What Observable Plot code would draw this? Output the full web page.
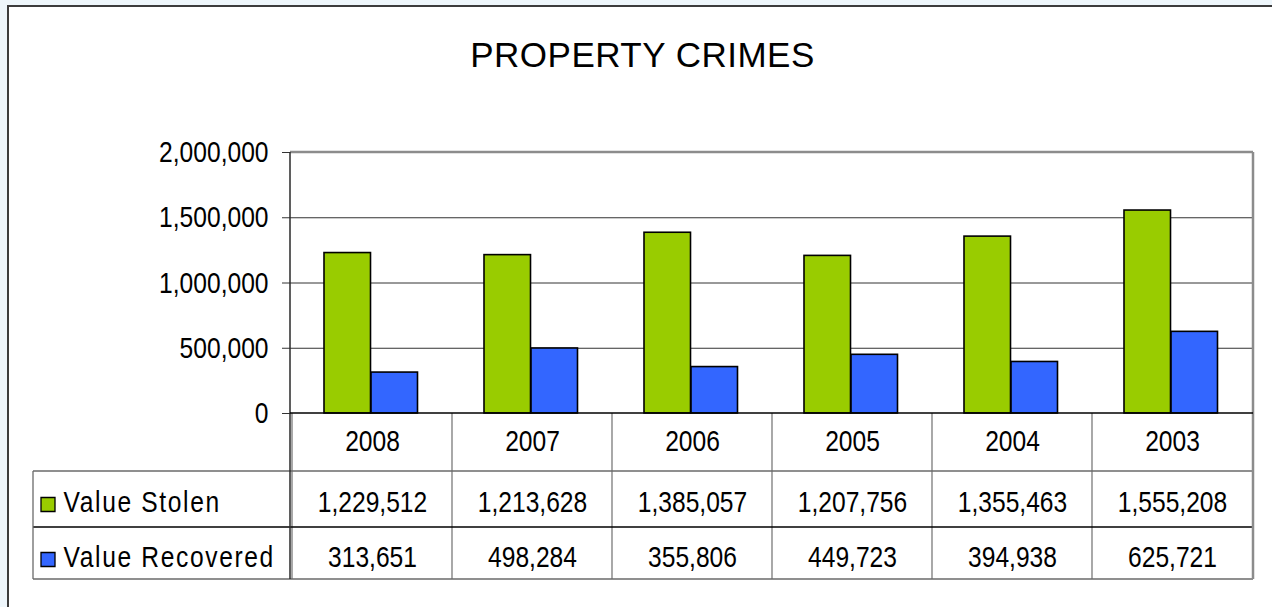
<!DOCTYPE html>
<html>
<head>
<meta charset="utf-8">
<script src="https://cdn.jsdelivr.net/npm/d3@7"></script>
<script src="https://cdn.jsdelivr.net/npm/@observablehq/plot@0.6"></script>
<style>
  html, body { margin: 0; padding: 0; }
  body { background: #eef6fb; width: 1272px; height: 607px; overflow: hidden; position: relative; }
  #frame { position: absolute; left: 7px; top: 5px; width: 1300px; height: 640px; border: 2px solid #3c3c3c; background: #ffffff; }
  #title { position: absolute; left: 0; top: 37px; width: 1285px; text-align: center; font-family: "Liberation Sans", Arial, sans-serif; font-size: 35px; line-height: 35px; color: #000; letter-spacing: 0.5px; }
  #chart { position: absolute; left: 0; top: 0; }
</style>
</head>
<body>
<div id="frame"></div>
<div id="title">PROPERTY CRIMES</div>
<div id="chart"></div>
<script>
const years = ["2008", "2007", "2006", "2005", "2004", "2003"];
const valueStolen = [1229512, 1213628, 1385057, 1207756, 1355463, 1555208];
const valueRecovered = [313651, 498284, 355806, 449723, 394938, 625721];
const seriesNames = ["Value Stolen", "Value Recovered"];
const seriesColors = ["#99cc00", "#3366ff"];
const yTicks = [0, 500000, 1000000, 1500000, 2000000];

const rows = years.map((year, i) => ({year, stolen: valueStolen[i], recovered: valueRecovered[i]}));
const fmt = d3.format(",");
const fontFam = '"Liberation Sans", Arial, sans-serif';
const narrowScale = 0.82; // horizontal squeeze to mimic a narrow face

// table layout (row heights below the plot frame)
const rowH = [58, 56, 52];
const legendWidth = 257;

function tableGrid(index, scales, values, dims) {
  const x = scales.x;
  const left = dims.marginLeft, right = dims.width - dims.marginRight;
  const top = dims.marginTop, base = dims.height - dims.marginBottom;
  const r1 = base + rowH[0], r2 = r1 + rowH[1], r3 = r2 + rowH[2];
  const lx = left - legendWidth;
  const g = d3.create("svg:g").attr("fill", "none");
  const line = (x1, y1, x2, y2, stroke, w) =>
    g.append("line").attr("x1", x1).attr("y1", y1).attr("x2", x2).attr("y2", y2)
      .attr("stroke", stroke).attr("stroke-width", w);
  for (const yr of x.domain()) {
    const xx = x(yr);
    if (xx > left + 1) line(xx, base, xx, r3, "#7a7a7a", 1.3);
  }
  line(lx, r1, right, r1, "#6a6a6a", 1.3);
  line(lx, r2, right, r2, "#000", 1.6);
  line(lx, r3, right, r3, "#6a6a6a", 1.3);
  line(lx, r1, lx, r3, "#6a6a6a", 1.3);
  line(left, top, right, top, "#8c8c8c", 2.5);
  line(right, top, right, r3, "#8c8c8c", 2.5);
  line(left, top, left, r3, "#2a2a2a", 1.5);
  line(left, base, right, base, "#000", 1.5);
  return g.node();
}

const marks = [
  Plot.ruleY(yTicks.slice(1, -1), {stroke: "#333", strokeWidth: 1}),
  Plot.barY(rows, {x: "year", y: "stolen", fill: seriesColors[0], stroke: "#000", strokeWidth: 1.6, insetLeft: 32, insetRight: 81.5}),
  Plot.barY(rows, {x: "year", y: "recovered", fill: seriesColors[1], stroke: "#000", strokeWidth: 1.6, insetLeft: 79, insetRight: 34.5}),
  Plot.axisY({ticks: yTicks, tickFormat: fmt, tickSize: 8, tickPadding: 14, stroke: "#333", fontSize: 30, label: null}),
  tableGrid,
  Plot.text(rows, {x: "year", text: "year", frameAnchor: "bottom", dy: 28, lineAnchor: "middle", fontSize: 30}),
  Plot.text(rows, {x: "year", text: d => fmt(d.stolen), frameAnchor: "bottom", dy: 88.5, lineAnchor: "middle", fontSize: 30}),
  Plot.text(rows, {x: "year", text: d => fmt(d.recovered), frameAnchor: "bottom", dy: 144, lineAnchor: "middle", fontSize: 30}),
  ...seriesNames.map((name, i) => Plot.text([name], {text: d => d, frameAnchor: "bottom-left", dx: -227, dy: [88.5, 144][i], lineAnchor: "middle", textAnchor: "start", fontSize: 30})),
  ...seriesNames.map((name, i) => Plot.dot([name], {frameAnchor: "bottom-left", dx: -242.5, dy: [91, 146][i], symbol: "square", r: 7.9, fill: seriesColors[i], stroke: "#000", strokeWidth: 1.3}))
];

const chart = Plot.plot({
  width: 1272,
  height: 607,
  marginLeft: 290,
  marginRight: 19,
  marginTop: 152,
  marginBottom: 194,
  style: {fontFamily: fontFam, fontSize: "30px", color: "#000", background: "transparent", overflow: "visible"},
  x: {domain: years, type: "band", padding: 0, axis: null},
  y: {domain: [0, 2000000], axis: null},
  marks
});

// squeeze each label horizontally around its own anchor point
chart.querySelectorAll("text").forEach(t => {
  const tr = t.getAttribute("transform");
  if (tr) {
    t.setAttribute("transform", tr + ` scale(${narrowScale},1)`);
  } else {
    const x = t.getAttribute("x") || 0;
    t.setAttribute("transform", `translate(${x},0) scale(${narrowScale},1)`);
    t.setAttribute("x", 0);
  }
  if (seriesNames.includes(t.textContent)) t.setAttribute("letter-spacing", "2px");
});
document.getElementById("chart").append(chart);
</script>
</body>
</html>
